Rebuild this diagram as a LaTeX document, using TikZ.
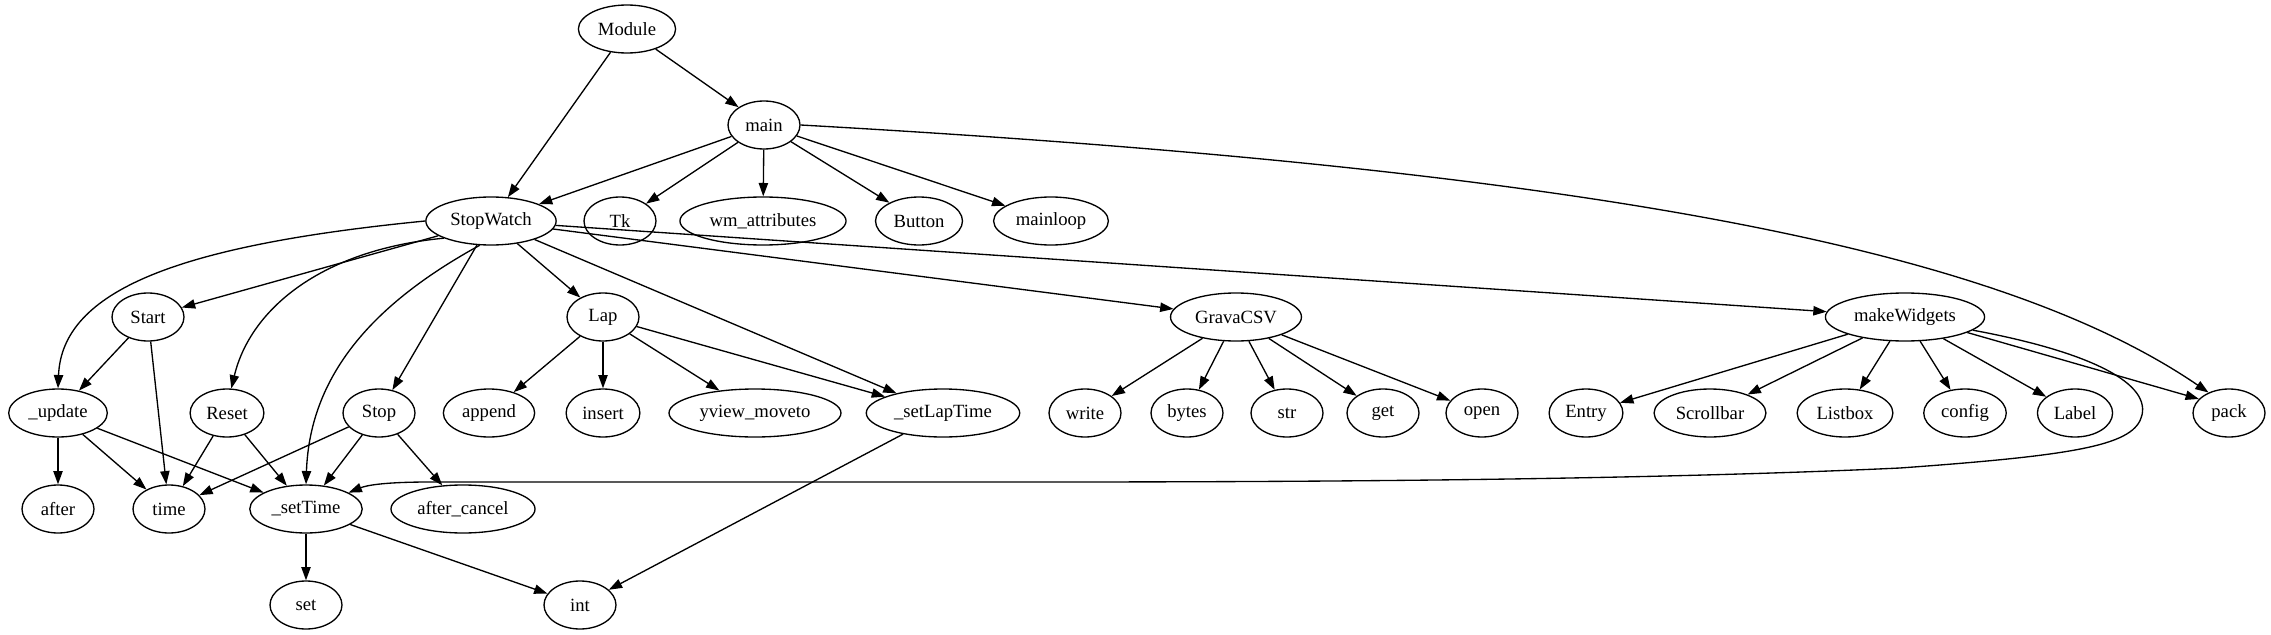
\documentclass[tikz,border=0pt]{standalone}
\usepackage{fontspec}
\setmainfont{Liberation Serif}
\newfontfamily\gvfont{Liberation Serif}
\usetikzlibrary{arrows.meta,shapes.geometric}
\begin{document}
\begin{tikzpicture}[x=0.75pt, y=-0.75pt,
    fn/.style={draw, ellipse, line width=1pt, minimum width=54pt, minimum height=36pt,
        inner xsep=4pt, inner ysep=2pt, font=\gvfont\fontsize{14}{16}\selectfont},
    call/.style={-{Triangle[length=10pt, width=7pt]}, line width=1pt}]
    \useasboundingbox (0, 0) rectangle (2271, 635);

    \node[fn] (module) at (627, 29) {Module};
    \node[fn] (main) at (764, 125) {main};

    \node[fn] (sw) at (491, 221) {StopWatch};
    \node[fn] (tk) at (620, 221) {Tk};
    \node[fn] (wm) at (763, 221) {wm\_attributes};
    \node[fn] (button) at (919, 221) {Button};
    \node[fn] (mainloop) at (1051, 221) {mainloop};

    \node[fn] (start) at (148, 317) {Start};
    \node[fn] (lap) at (603, 317) {Lap};
    \node[fn] (grava) at (1236, 317) {GravaCSV};
    \node[fn] (mw) at (1905, 317) {makeWidgets};

    \node[fn] (upd) at (58, 413) {\_update};
    \node[fn] (reset) at (227, 413) {Reset};
    \node[fn] (stop) at (379, 413) {Stop};
    \node[fn] (append) at (489, 413) {append};
    \node[fn] (insert) at (603, 413) {insert};
    \node[fn] (yview) at (755, 413) {yview\_moveto};
    \node[fn] (slt) at (943, 413) {\_setLapTime};
    \node[fn] (write) at (1085, 413) {write};
    \node[fn] (bytes) at (1187, 413) {bytes};
    \node[fn] (str) at (1287, 413) {str};
    \node[fn] (get) at (1383, 413) {get};
    \node[fn] (open) at (1482, 413) {open};
    \node[fn] (entry) at (1586, 413) {Entry};
    \node[fn] (scroll) at (1710, 413) {Scrollbar};
    \node[fn] (listbox) at (1845, 413) {Listbox};
    \node[fn] (config) at (1965, 413) {config};
    \node[fn] (label) at (2075, 413) {Label};
    \node[fn] (pack) at (2229, 413) {pack};

    \node[fn] (after) at (58, 509) {after};
    \node[fn] (time) at (169, 509) {time};
    \node[fn] (st) at (306, 509) {\_setTime};
    \node[fn] (cancel) at (463, 509) {after\_cancel};

    \node[fn] (set) at (306, 605) {set};
    \node[fn] (int) at (580, 605) {int};

    \draw[call] (module) -- (sw);
    \draw[call] (module) -- (main);
    \draw[call] (main) -- (sw);
    \draw[call] (main) -- (tk);
    \draw[call] (main) -- (wm);
    \draw[call] (main) -- (button);
    \draw[call] (main) -- (mainloop);
    \draw[call] (main.east) .. controls (1600, 170) and (2000, 250) .. (pack.135);

    \draw[call] (sw.west) .. controls (180, 245) and (62, 290) .. (upd.north);
    \draw[call] (sw.200) .. controls (320, 250) and (250, 310) .. (reset.80);
    \draw[call] (sw.245) .. controls (380, 300) and (310, 370) .. (st.north);
    \draw[call] (sw) -- (start);
    \draw[call] (sw) -- (stop);
    \draw[call] (sw) -- (lap);
    \draw[call] (sw) -- (slt);
    \draw[call] (sw) -- (grava);
    \draw[call] (sw) -- (mw);

    \draw[call] (start) -- (upd);
    \draw[call] (start) -- (time);
    \draw[call] (upd) -- (after);
    \draw[call] (upd) -- (time);
    \draw[call] (upd) -- (st);
    \draw[call] (reset) -- (time);
    \draw[call] (reset) -- (st);
    \draw[call] (stop) -- (time);
    \draw[call] (stop) -- (st);
    \draw[call] (stop) -- (cancel);

    \draw[call] (lap) -- (append);
    \draw[call] (lap) -- (insert);
    \draw[call] (lap) -- (yview);
    \draw[call] (lap) -- (slt);
    \draw[call] (slt) -- (int);

    \draw[call] (grava) -- (write);
    \draw[call] (grava) -- (bytes);
    \draw[call] (grava) -- (str);
    \draw[call] (grava) -- (get);
    \draw[call] (grava) -- (open);

    \draw[call] (mw) -- (entry);
    \draw[call] (mw) -- (scroll);
    \draw[call] (mw) -- (listbox);
    \draw[call] (mw) -- (config);
    \draw[call] (mw) -- (label);
    \draw[call] (mw.-14) -- (pack.155);
    \draw[call] (mw.-11) .. controls (2080, 350) and (2150, 380) .. (2142, 415)
        .. controls (2135, 445) and (2080, 455) .. (1900, 468)
        .. controls (1600, 482) and (1200, 482) .. (1000, 482) -- (430, 482)
        .. controls (380, 482) and (365, 486) .. (st.21);

    \draw[call] (st) -- (set);
    \draw[call] (st) -- (int);
\end{tikzpicture}
\end{document}
